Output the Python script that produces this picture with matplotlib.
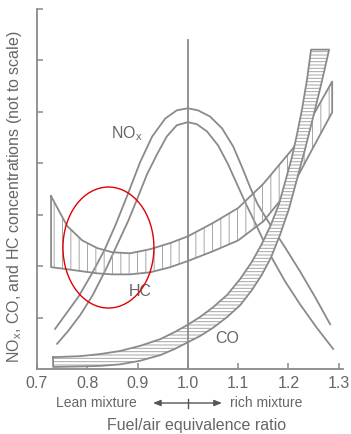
import matplotlib
matplotlib.use("Agg")
import matplotlib.pyplot as plt
from matplotlib.patches import Ellipse

plt.rcParams["font.family"] = ["Liberation Sans", "DejaVu Sans"]
plt.rcParams["mathtext.default"] = "regular"
plt.rcParams["hatch.linewidth"] = 0.7

# ---- data (fuel/air equivalence ratio vs. relative concentration, not to scale) ----
x_ticks = [0.7, 0.8, 0.9, 1.0, 1.1, 1.2, 1.3]
x_tick_labels = ["0.7", "0.8", "0.9", "1.0", "1.1", "1.2", "1.3"]
y_ticks = [1, 2, 3, 4, 5, 6, 7]

# NOx: two bounding curves peaking at stoichiometric
nox_outer_x = [0.736, 0.756, 0.782, 0.809, 0.835, 0.857, 0.879, 0.905, 0.929, 0.955,
               0.978, 1.000, 1.020, 1.044, 1.068, 1.090, 1.108, 1.124, 1.139, 1.163,
               1.193, 1.223, 1.253, 1.283]
nox_outer_y = [0.78, 1.05, 1.40, 1.85, 2.33, 2.82, 3.36, 4.02, 4.52, 4.87,
               5.03, 5.07, 5.03, 4.91, 4.68, 4.33, 3.92, 3.53, 3.20, 2.82,
               2.37, 1.90, 1.40, 0.87]
nox_inner_x = [0.740, 0.762, 0.786, 0.811, 0.837, 0.861, 0.881, 0.899, 0.919, 0.939,
               0.958, 0.978, 1.000, 1.018, 1.038, 1.060, 1.080, 1.098, 1.116, 1.135,
               1.163, 1.193, 1.223, 1.255, 1.289]
nox_inner_y = [0.49, 0.74, 1.05, 1.44, 1.94, 2.45, 2.87, 3.30, 3.79, 4.18,
               4.52, 4.74, 4.80, 4.76, 4.62, 4.35, 3.98, 3.59, 3.20, 2.82,
               2.23, 1.71, 1.26, 0.82, 0.39]

# HC band
hc_x = [0.728, 0.760, 0.790, 0.820, 0.850, 0.885, 0.925, 0.965, 1.000, 1.050,
        1.100, 1.150, 1.210, 1.245, 1.287]
hc_upper = [3.36, 2.78, 2.50, 2.35, 2.27, 2.25, 2.33, 2.45, 2.58, 2.84,
            3.13, 3.60, 4.30, 4.86, 5.59]
hc_lower = [1.98, 1.94, 1.90, 1.86, 1.84, 1.84, 1.88, 1.98, 2.10, 2.29,
            2.50, 2.87, 3.59, 4.23, 4.99]

# CO band (upper-left and lower-right boundaries)
co_upper_x = [0.732, 0.786, 0.825, 0.865, 0.905, 0.945, 0.974, 0.998, 1.024, 1.050,
              1.078, 1.104, 1.127, 1.147, 1.165, 1.181, 1.195, 1.207, 1.217, 1.227,
              1.237, 1.245]
co_upper_y = [0.23, 0.25, 0.29, 0.35, 0.45, 0.58, 0.72, 0.85, 1.01, 1.20,
              1.44, 1.75, 2.08, 2.43, 2.80, 3.20, 3.69, 4.12, 4.56, 5.05,
              5.63, 6.21]
co_lower_x = [0.732, 0.786, 0.825, 0.865, 0.905, 0.945, 0.974, 0.998, 1.024, 1.050,
              1.078, 1.104, 1.127, 1.147, 1.165, 1.183, 1.201, 1.217, 1.233, 1.249,
              1.265, 1.281]
co_lower_y = [0.04, 0.05, 0.06, 0.09, 0.16, 0.27, 0.39, 0.51, 0.64, 0.80,
              1.01, 1.24, 1.53, 1.83, 2.16, 2.60, 3.11, 3.69, 4.27, 4.89,
              5.53, 6.21]

stoich_x = 1.0
stoich_top = 6.39

# ---- styling ----
line_c = "#8a8a8a"
hatch_c = "#a6a6a6"
text_c = "#666666"
lw = 1.3

fig = plt.figure(figsize=(3.51, 4.35), dpi=100)
ax = fig.add_axes([0.1054, 0.1494, 0.8716, 0.8276])
ax.set_xlim(0.7, 1.3084)
ax.set_ylim(0, 7)

# NOx curves
ax.plot(nox_outer_x, nox_outer_y, color=line_c, lw=lw, zorder=2)
ax.plot(nox_inner_x, nox_inner_y, color=line_c, lw=lw, zorder=2)

# HC band: light vertical hatching, transparent fill, darker outline
hc_poly_x = hc_x + hc_x[::-1] + hc_x[:1]
hc_poly_y = hc_upper + hc_lower[::-1] + hc_upper[:1]
ax.fill(hc_poly_x, hc_poly_y, facecolor="none", edgecolor=hatch_c, hatch="||",
        lw=0, zorder=3)
ax.plot(hc_poly_x, hc_poly_y, color=line_c, lw=lw, zorder=3)

# CO band: dense horizontal hatching over white
co_poly_x = co_upper_x + co_lower_x[::-1] + co_upper_x[:1]
co_poly_y = co_upper_y + co_lower_y[::-1] + co_upper_y[:1]
ax.fill(co_poly_x, co_poly_y, facecolor="white", edgecolor=hatch_c, hatch="-----",
        lw=0, zorder=4)
ax.plot(co_poly_x, co_poly_y, color=line_c, lw=lw, zorder=4)

# stoichiometric line
ax.plot([stoich_x, stoich_x], [0, stoich_top], color=line_c, lw=lw, zorder=5)

# curve labels
ax.text(0.879, 4.60, "NO$_x$", color=text_c, fontsize=11.5, ha="center", va="center")
ax.text(0.905, 1.52, "HC", color=text_c, fontsize=11.5, ha="center", va="center")
ax.text(1.079, 0.62, "CO", color=text_c, fontsize=11.5, ha="center", va="center")

# axes
for s in ["top", "right"]:
    ax.spines[s].set_visible(False)
for s in ["left", "bottom"]:
    ax.spines[s].set_color(line_c)
    ax.spines[s].set_linewidth(lw)
ax.set_xticks(x_ticks)
ax.set_xticklabels(x_tick_labels)
ax.set_yticks(y_ticks)
ax.set_yticklabels([])
ax.tick_params(axis="both", direction="in", length=4, width=1.1, color=line_c,
               labelcolor=text_c, labelsize=11.5, pad=4)

fig.text(15 / 351, 1 - 197 / 435, "NO$_x$, CO, and HC concentrations (not to scale)",
         rotation=90, ha="center", va="center", color=text_c, fontsize=11.5)
fig.text(197 / 351, 1 - 426 / 435, "Fuel/air equivalence ratio",
         ha="center", va="center", color=text_c, fontsize=11.5)
fig.text(96 / 351, 1 - 403 / 435, "Lean mixture", ha="center", va="center",
         color=text_c, fontsize=10)
fig.text(266 / 351, 1 - 403 / 435, "rich mixture", ha="center", va="center",
         color=text_c, fontsize=10)

# lean/rich arrow with centre tick
arrow_y = 1 - 404 / 435
ax.annotate("", xy=(0.9306, arrow_y), xytext=(1.0678, arrow_y),
            xycoords=("data", "figure fraction"), textcoords=("data", "figure fraction"),
            arrowprops=dict(arrowstyle="<|-|>,head_length=0.45,head_width=0.18",
                            color="#555555", lw=1.0, shrinkA=0, shrinkB=0))
ax.plot([stoich_x, stoich_x], [-0.083, -0.108], color="#555555", lw=1.0,
        transform=ax.get_xaxis_transform(), clip_on=False)

# red ellipse highlight
ax.add_patch(Ellipse((0.8421, 2.362), 0.1809, 2.353, fill=False, edgecolor="#e00000",
                     lw=1.0, zorder=6))

fig.savefig("out.png", dpi=100, facecolor="white")
